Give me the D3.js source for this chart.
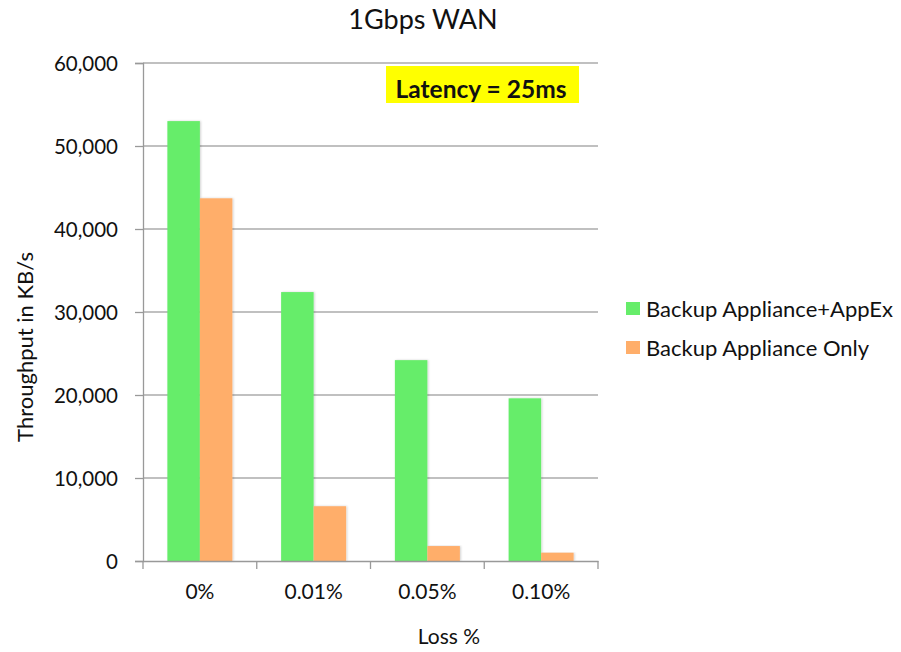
<!DOCTYPE html>
<html>
<head>
<meta charset="utf-8">
<script src="https://cdn.jsdelivr.net/npm/d3@7"></script>
<style>
  html, body { margin: 0; padding: 0; background: #fff; }
  svg { display: block; }
  text { font-family: Lato, "Open Sans", sans-serif; fill: #111; }
</style>
</head>
<body>
<svg id="chart" width="901" height="652"></svg>
<script>
const categories = ["0%", "0.01%", "0.05%", "0.10%"];
const seriesNames = ["Backup Appliance+AppEx", "Backup Appliance Only"];
const appexValues = [53000, 32400, 24200, 19600];
const onlyValues = [43700, 6600, 1800, 1000];
const yTicks = [0, 10000, 20000, 30000, 40000, 50000, 60000];
const titleText = "1Gbps WAN";
const xTitle = "Loss %";
const yTitle = "Throughput in KB/s";
const noteText = "Latency = 25ms";
const colors = ["#66ed6a", "#ffae6a"];

const svg = d3.select("#chart");
const m = { left: 143, right: 598, top: 63, bottom: 561 };

const x = d3.scaleBand().domain(categories).range([m.left, m.right]).padding(0);
const x1 = d3.scaleBand().domain(seriesNames).range([0, x.bandwidth()]).paddingInner(0).paddingOuter(0.75);
const y = d3.scaleLinear().domain([0, 60000]).range([m.bottom, m.top]);

const defs = svg.append("defs");
const f = defs.append("filter").attr("id", "sh").attr("x", "-20%").attr("y", "-5%").attr("width", "140%").attr("height", "110%");
f.append("feDropShadow").attr("dx", 1).attr("dy", 0).attr("stdDeviation", 1).attr("flood-color", "#000").attr("flood-opacity", 0.18);

// gridlines
svg.append("g").selectAll("line").data(yTicks.filter(d => d > 0)).join("line")
  .attr("x1", m.left).attr("x2", m.right)
  .attr("y1", d => y(d)).attr("y2", d => y(d))
  .attr("stroke", "#ababab").attr("stroke-width", 1.3);

// bars
const data = categories.map((c, i) => ({ c, vals: [appexValues[i], onlyValues[i]] }));
const g = svg.append("g").selectAll("g").data(data).join("g")
  .attr("transform", d => `translate(${x(d.c)},0)`);
g.selectAll("rect").data(d => d.vals.map((v, j) => ({ v, s: seriesNames[j], j }))).join("rect")
  .attr("x", d => x1(d.s)).attr("width", x1.bandwidth())
  .attr("y", d => y(d.v)).attr("height", d => y(0) - y(d.v))
  .attr("fill", d => colors[d.j]).attr("filter", "url(#sh)");

// y axis
const yAxis = d3.axisLeft(y).tickValues(yTicks).tickSize(8).tickPadding(17).tickFormat(d3.format(","));
const ya = svg.append("g").attr("transform", `translate(${m.left},0)`).call(yAxis)
  .attr("font-family", null).attr("font-size", null);
ya.select(".domain").attr("stroke", "#999").attr("stroke-width", 1.3);
ya.selectAll(".tick line").attr("stroke", "#999").attr("stroke-width", 1.3);
ya.selectAll("text").attr("font-size", 20.5).attr("fill", "#111").attr("dy", "0.36em");

// x axis
const xAxis = d3.axisBottom(x).tickSize(0).tickPadding(23);
const xa = svg.append("g").attr("transform", `translate(0,${m.bottom})`).call(xAxis)
  .attr("font-family", null).attr("font-size", null);
xa.select(".domain").attr("stroke", "#999").attr("stroke-width", 1.3);
xa.selectAll("text").attr("font-size", 21).attr("fill", "#111");
// category boundary ticks
const bounds = categories.map(c => x(c)).concat([x.range()[1]]);
xa.selectAll(".bt").data(bounds).join("line").attr("class", "bt")
  .attr("x1", d => d).attr("x2", d => d).attr("y1", 0).attr("y2", 8)
  .attr("stroke", "#999").attr("stroke-width", 1.3);

// title
svg.append("text").attr("x", 423).attr("y", 29).attr("text-anchor", "middle")
  .attr("font-family", "DejaVu Sans").attr("font-size", 27).text(titleText);

// axis titles
svg.append("text").attr("x", 449).attr("y", 644).attr("text-anchor", "middle")
  .attr("font-size", 21).text(xTitle);
svg.append("text").attr("transform", "translate(33,347) rotate(-90)").attr("text-anchor", "middle")
  .attr("font-size", 22).text(yTitle);

// note box
svg.append("rect").attr("x", 386).attr("y", 66).attr("width", 193).attr("height", 37).attr("fill", "#ffff00");
svg.append("text").attr("x", 481).attr("y", 97.5).attr("text-anchor", "middle")
  .attr("font-weight", "bold").attr("font-size", 24.5).attr("fill", "#000").text(noteText);

// legend
const lg = svg.append("g").selectAll("g").data(seriesNames).join("g")
  .attr("transform", (d, i) => `translate(626,${302 + i * 39})`);
lg.append("rect").attr("width", 14).attr("height", 13).attr("fill", (d, i) => colors[i]);
lg.append("text").attr("x", 20).attr("y", 15).attr("font-size", 22).text(d => d);
</script>
</body>
</html>
